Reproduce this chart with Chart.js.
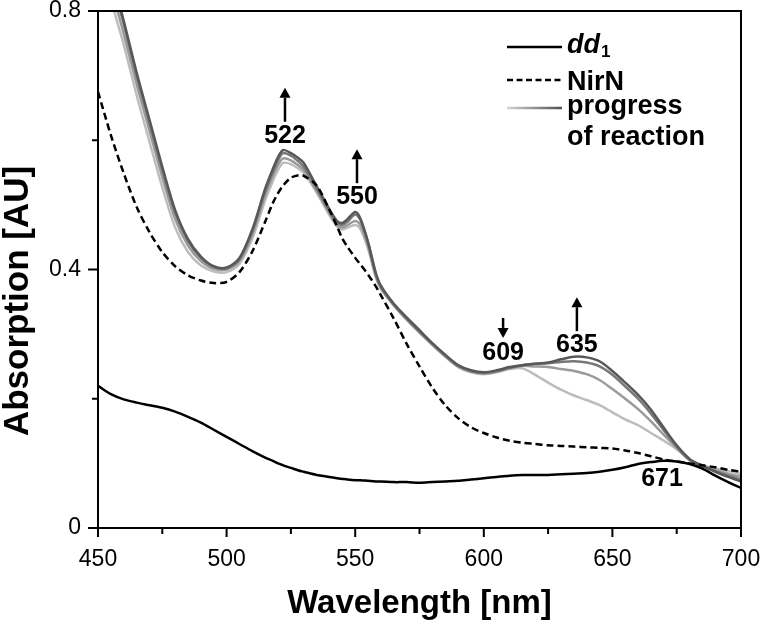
<!DOCTYPE html>
<html>
<head>
<meta charset="utf-8">
<script src="https://cdn.jsdelivr.net/npm/chart.js@4.4.1/dist/chart.umd.min.js"></script>
<style>
  html, body { margin: 0; padding: 0; background: #fff; }
  #spectra { display: block; }
</style>
</head>
<body>
<canvas id="spectra" width="760" height="623"></canvas>
<script>
const wavelengths = [
  450, 455, 460, 465, 470, 475, 480, 485, 490, 495,
  500, 505, 510, 515, 518, 520, 522, 525, 528, 530,
  535, 540, 543, 545, 547, 550, 552, 555, 558, 560,
  565, 570, 575, 580, 585, 590, 595, 600, 605, 610,
  615, 620, 625, 630, 635, 640, 645, 650, 655, 660,
  665, 670, 675, 680, 685, 690, 695, 700
];

const dd1 = [
  0.220, 0.207, 0.199, 0.194, 0.190, 0.186, 0.180, 0.172, 0.163, 0.152,
  0.141, 0.130, 0.119, 0.109, 0.104, 0.100, 0.097, 0.093, 0.089, 0.087,
  0.082, 0.079, 0.077, 0.076, 0.075, 0.074, 0.074, 0.073, 0.072, 0.072,
  0.071, 0.071, 0.070, 0.071, 0.072, 0.073, 0.075, 0.077, 0.079, 0.081,
  0.082, 0.082, 0.082, 0.083, 0.084, 0.085, 0.087, 0.090, 0.094, 0.099,
  0.102, 0.104, 0.103, 0.099, 0.092, 0.081, 0.071, 0.062
];

const nirN = [
  0.675, 0.608, 0.549, 0.497, 0.458, 0.427, 0.405, 0.391, 0.383, 0.379,
  0.381, 0.396, 0.428, 0.474, 0.503, 0.518, 0.530, 0.542, 0.546, 0.545,
  0.530, 0.492, 0.466, 0.448, 0.435, 0.418, 0.408, 0.392, 0.374, 0.360,
  0.324, 0.285, 0.250, 0.217, 0.190, 0.170, 0.156, 0.147, 0.140, 0.135,
  0.132, 0.130, 0.128, 0.127, 0.126, 0.125, 0.124, 0.123, 0.120, 0.116,
  0.111, 0.106, 0.103, 0.100, 0.097, 0.094, 0.090, 0.087
];

// progress of reaction, earliest (lightest) to latest (darkest)
const progress1 = [
  0.930, 0.820, 0.748, 0.670, 0.598, 0.527, 0.465, 0.427, 0.406, 0.397,
  0.396, 0.409, 0.448, 0.507, 0.537, 0.554, 0.565, 0.563, 0.556, 0.550,
  0.519, 0.484, 0.466, 0.462, 0.465, 0.469, 0.463, 0.432, 0.388, 0.370,
  0.344, 0.322, 0.302, 0.283, 0.265, 0.249, 0.241, 0.238, 0.241, 0.246,
  0.247, 0.237, 0.225, 0.214, 0.205, 0.198, 0.190, 0.179, 0.168, 0.159,
  0.147, 0.135, 0.122, 0.105, 0.097, 0.092, 0.088, 0.083
];
const progress2 = [
  0.950, 0.840, 0.765, 0.687, 0.615, 0.543, 0.478, 0.437, 0.413, 0.401,
  0.400, 0.413, 0.454, 0.515, 0.545, 0.562, 0.572, 0.569, 0.561, 0.554,
  0.522, 0.487, 0.469, 0.465, 0.469, 0.475, 0.469, 0.436, 0.390, 0.371,
  0.345, 0.323, 0.303, 0.284, 0.266, 0.250, 0.242, 0.239, 0.242, 0.247,
  0.251, 0.250, 0.249, 0.246, 0.243, 0.238, 0.229, 0.215, 0.200, 0.184,
  0.165, 0.144, 0.124, 0.105, 0.097, 0.090, 0.084, 0.079
];
const progress3 = [
  0.965, 0.855, 0.780, 0.700, 0.627, 0.554, 0.488, 0.444, 0.418, 0.404,
  0.402, 0.416, 0.459, 0.521, 0.551, 0.569, 0.580, 0.576, 0.567, 0.559,
  0.526, 0.490, 0.472, 0.469, 0.474, 0.485, 0.477, 0.442, 0.393, 0.373,
  0.346, 0.324, 0.304, 0.285, 0.267, 0.251, 0.243, 0.240, 0.243, 0.248,
  0.252, 0.254, 0.255, 0.257, 0.258, 0.256, 0.250, 0.237, 0.219, 0.200,
  0.177, 0.151, 0.126, 0.106, 0.096, 0.088, 0.081, 0.075
];
const progress4 = [
  0.970, 0.860, 0.785, 0.705, 0.632, 0.559, 0.492, 0.447, 0.420, 0.405,
  0.403, 0.418, 0.462, 0.525, 0.556, 0.574, 0.585, 0.580, 0.572, 0.565,
  0.529, 0.493, 0.475, 0.472, 0.478, 0.489, 0.479, 0.442, 0.395, 0.375,
  0.347, 0.326, 0.306, 0.286, 0.268, 0.252, 0.244, 0.241, 0.244, 0.249,
  0.252, 0.254, 0.256, 0.261, 0.265, 0.264, 0.258, 0.243, 0.225, 0.206,
  0.183, 0.155, 0.128, 0.107, 0.096, 0.087, 0.079, 0.072
];

const progressSeries = [progress1, progress2, progress3, progress4];
const progressColors = ['#bdbdbd', '#9a9a9a', '#787878', '#585858'];

const xLabelTicks = [450, 500, 550, 600, 650, 700];
const yLabelTicks = [0, 0.4, 0.8];

// peak labels: wavelength, absorbance of the label centre, arrow direction
const peakLabels = [
  { text: '522', nm: 522.7, abs: 0.610, arrow: 'up' },
  { text: '550', nm: 550.7, abs: 0.515, arrow: 'up' },
  { text: '609', nm: 607.5, abs: 0.274, arrow: 'down' },
  { text: '635', nm: 636.2, abs: 0.286, arrow: 'up' },
  { text: '671', nm: 669.3, abs: 0.079, arrow: null }
];

const FONT = '"Liberation Sans", Arial, Helvetica, sans-serif';
const toPoints = (ys) => ys.map((v, i) => ({ x: wavelengths[i], y: v }));

const datasets = [
  { label: 'dd1', data: toPoints(dd1), borderColor: '#000', borderWidth: 2.5 },
  { label: 'NirN', data: toPoints(nirN), borderColor: '#000', borderWidth: 2.5, borderDash: [7, 4] }
];
for (let i = progressSeries.length - 1; i >= 0; i--) {
  datasets.push({
    label: 'progress ' + (i + 1),
    data: toPoints(progressSeries[i]),
    borderColor: progressColors[i],
    borderWidth: 2.5
  });
}

function drawArrow(ctx, x, yFrom, yTo) {
  const dir = yTo < yFrom ? -1 : 1;
  const head = 10;
  ctx.beginPath();
  ctx.moveTo(x, yFrom);
  ctx.lineTo(x, yTo - dir * head);
  ctx.lineWidth = 2.5;
  ctx.stroke();
  ctx.beginPath();
  ctx.moveTo(x, yTo);
  ctx.lineTo(x - 5.5, yTo - dir * head);
  ctx.lineTo(x + 5.5, yTo - dir * head);
  ctx.closePath();
  ctx.fill();
}

const framePlugin = {
  id: 'frame',
  afterDraw(chart) {
    const { ctx, chartArea: a, scales: { x, y } } = chart;
    ctx.save();
    ctx.strokeStyle = '#000';
    ctx.fillStyle = '#000';
    ctx.lineWidth = 2;
    ctx.strokeRect(a.left, a.top, a.right - a.left, a.bottom - a.top);

    // tick marks, outward
    ctx.beginPath();
    x.ticks.forEach(t => {
      const px = x.getPixelForValue(t.value);
      const len = t.label ? 9 : 6;
      ctx.moveTo(px, a.bottom);
      ctx.lineTo(px, a.bottom + len);
    });
    y.ticks.forEach(t => {
      const py = y.getPixelForValue(t.value);
      const len = t.label ? 10 : 6;
      ctx.moveTo(a.left, py);
      ctx.lineTo(a.left - len, py);
    });
    ctx.stroke();

    // peak labels and arrows
    ctx.font = 'bold 25px ' + FONT;
    ctx.textAlign = 'center';
    ctx.textBaseline = 'alphabetic';
    peakLabels.forEach(p => {
      const px = x.getPixelForValue(p.nm);
      const py = y.getPixelForValue(p.abs);
      ctx.fillText(p.text, px, py + 9);
      if (p.arrow === 'up') drawArrow(ctx, px, py - 12, py - 46);
      if (p.arrow === 'down') drawArrow(ctx, px, py - 33, py - 13);
    });

    // legend
    const lx0 = a.right - 234, lx1 = a.right - 179, tx = a.right - 174;
    ctx.textAlign = 'left';
    ctx.lineWidth = 2.5;
    ctx.strokeStyle = '#000';
    ctx.beginPath();
    ctx.moveTo(lx0, a.top + 36); ctx.lineTo(lx1, a.top + 36);
    ctx.stroke();
    ctx.setLineDash([6, 3.5]);
    ctx.beginPath();
    ctx.moveTo(lx0, a.top + 69); ctx.lineTo(lx1, a.top + 69);
    ctx.stroke();
    ctx.setLineDash([]);
    const grad = ctx.createLinearGradient(lx0, 0, lx1, 0);
    grad.addColorStop(0, '#d4d4d4');
    grad.addColorStop(1, '#505050');
    ctx.strokeStyle = grad;
    ctx.beginPath();
    ctx.moveTo(lx0, a.top + 97); ctx.lineTo(lx1, a.top + 97);
    ctx.stroke();

    ctx.font = 'italic bold 27px ' + FONT;
    ctx.fillText('dd', tx, a.top + 42);
    const ddw = ctx.measureText('dd').width;
    ctx.font = 'bold 17px ' + FONT;
    ctx.fillText('1', tx + ddw + 1, a.top + 46);
    ctx.font = 'bold 27px ' + FONT;
    ctx.fillText('NirN', tx, a.top + 79);
    ctx.fillText('progress', tx, a.top + 103);
    ctx.fillText('of reaction', tx, a.top + 134);

    // axis titles
    ctx.font = 'bold 33px ' + FONT;
    ctx.textAlign = 'center';
    ctx.fillText('Wavelength [nm]', (a.left + a.right) / 2, 613);
    ctx.save();
    ctx.translate(28, 301);
    ctx.rotate(-Math.PI / 2);
    ctx.font = 'bold 35px ' + FONT;
    ctx.fillText('Absorption [AU]', 0, 0);
    ctx.restore();
    ctx.restore();
  }
};

new Chart(document.getElementById('spectra'), {
  type: 'line',
  data: { datasets },
  options: {
    responsive: false,
    animation: false,
    devicePixelRatio: 1,
    layout: { padding: { top: 11, right: 19, left: 0, bottom: 0 } },
    elements: { point: { radius: 0 }, line: { tension: 0.3, fill: false } },
    plugins: { legend: { display: false }, tooltip: { enabled: false } },
    scales: {
      x: {
        type: 'linear',
        min: 450,
        max: 700,
        grid: { display: false, drawTicks: false },
        border: { display: false },
        ticks: {
          stepSize: 25,
          padding: 18,
          color: '#000',
          font: { family: FONT, size: 23 },
          maxRotation: 0,
          autoSkip: false,
          callback: (v) => xLabelTicks.includes(v) ? String(v) : ''
        },
        afterFit: (scale) => { scale.height = 95; scale.paddingLeft = 0; scale.paddingRight = 0; }
      },
      y: {
        min: 0,
        max: 0.8,
        grid: { display: false, drawTicks: false },
        border: { display: false },
        ticks: {
          stepSize: 0.2,
          padding: 17,
          color: '#000',
          font: { family: FONT, size: 23 },
          callback: (v) => {
            const r = Math.round(v * 10) / 10;
            return yLabelTicks.includes(r) ? String(r) : '';
          }
        },
        afterFit: (scale) => { scale.width = 98; scale.paddingTop = 0; scale.paddingBottom = 0; }
      }
    }
  },
  plugins: [framePlugin]
});
</script>
</body>
</html>
